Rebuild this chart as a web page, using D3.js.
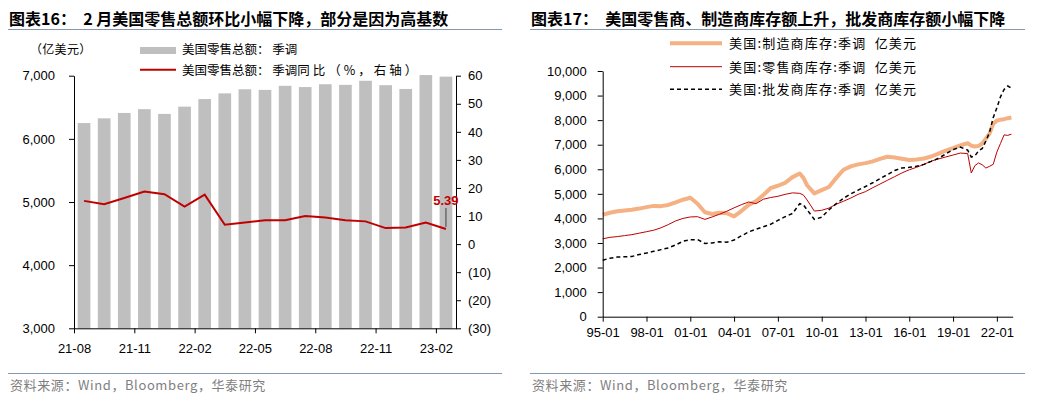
<!DOCTYPE html>
<html>
<head>
<meta charset="utf-8">
<script src="https://cdn.jsdelivr.net/npm/d3@7"></script>
<style>
  body { margin: 0; background: #fff; }
  svg { display: block; font-family: "Liberation Sans", Arial, sans-serif; }
  .cn { font-family: "Noto Sans CJK SC", sans-serif; }
</style>
</head>
<body>
<svg id="chart" width="1037" height="399"></svg>
<script>
// ---- left chart data: US retail sales (亿美元) and YoY (%) ----
const months = ["21-08","21-09","21-10","21-11","21-12","22-01","22-02","22-03","22-04","22-05",
                "22-06","22-07","22-08","22-09","22-10","22-11","22-12","23-01","23-02"];
const retailSales = [6250,6325,6410,6470,6395,6510,6630,6720,6785,6775,
                     6840,6820,6865,6855,6920,6850,6790,7010,6985];
const retailYoy = [15.4,14.2,16.4,18.7,17.8,13.4,17.6,6.9,7.7,8.5,
                   8.5,10.0,9.5,8.5,8.1,5.7,5.9,7.7,5.39];
const salesTicks = [3000,4000,5000,6000,7000];
const yoyTicks = [-30,-20,-10,0,10,20,30,40,50,60];

// ---- right chart data: US inventories (亿美元) ----
const invDates = ["1995-01","1995-07","1996-01","1996-07","1997-01","1997-07","1998-01","1998-07",
  "1999-01","1999-07","2000-01","2000-07","2001-01","2001-07","2002-01","2002-07","2003-01","2003-07",
  "2004-01","2004-07","2005-01","2005-07","2006-01","2006-07","2007-01","2007-07","2008-01","2008-07",
  "2008-10","2009-01","2009-07","2010-01","2010-07","2011-01","2011-07","2012-01","2012-07","2013-01",
  "2013-07","2014-01","2014-07","2015-01","2015-07","2016-01","2016-07","2017-01","2017-07","2018-01",
  "2018-07","2019-01","2019-07","2020-01","2020-04","2020-07","2020-10","2021-01","2021-04","2021-07",
  "2021-10","2022-01","2022-04","2022-07","2022-10","2023-01"];
const mfgInv = [4150,4230,4290,4320,4350,4400,4460,4510,4500,4550,4650,4760,4840,4600,4250,4180,4230,4210,
  4080,4300,4550,4700,4950,5230,5330,5450,5680,5830,5650,5350,5020,5150,5280,5650,5980,6120,6200,6250,
  6320,6420,6510,6480,6430,6380,6400,6440,6520,6640,6760,6860,6970,7060,6960,6930,6950,7050,7250,7450,
  7850,7980,8020,8040,8080,8110];
const retailInv = [3170,3230,3260,3300,3340,3400,3460,3520,3620,3750,3900,4000,4060,4070,3960,4060,4170,4290,
  4430,4560,4670,4600,4780,4850,4900,4980,5040,5020,4950,4750,4300,4330,4420,4580,4700,4830,4980,5090,
  5250,5400,5550,5700,5850,5980,6080,6200,6330,6420,6500,6580,6660,6640,5850,6150,6260,6180,6050,6120,
  6200,6700,7050,7400,7380,7430];
const wholesaleInv = [2300,2380,2430,2440,2450,2530,2590,2660,2730,2800,2920,3070,3130,3140,2980,3000,3050,3030,
  3120,3290,3450,3560,3660,3760,3920,4070,4200,4600,4550,4350,3960,4050,4350,4600,4820,5000,5150,5300,
  5450,5620,5780,5950,6050,6080,6120,6200,6320,6450,6620,6800,6900,6780,6500,6550,6750,6850,7150,7500,
  8100,8500,8950,9250,9390,9300];
const invTicks = [0,1000,2000,3000,4000,5000,6000,7000,8000,9000,10000];
const invTickDates = ["1995-01","1998-01","2001-01","2004-01","2007-01","2010-01","2013-01","2016-01","2019-01","2022-01"];

const svg = d3.select("#chart");
const fmt = d3.format(",");
const parseMonth = d3.timeParse("%Y-%m");

function frame(x0, x1, title) {
  svg.append("text").attr("class", "cn").attr("x", x0 + 1).attr("y", 25)
    .style("white-space", "pre").attr("font-size", 16).attr("font-weight", 700)
    .attr("fill", "#000").text(title);
  svg.append("line").attr("x1", x0).attr("x2", x1).attr("y1", 29.5).attr("y2", 29.5)
    .attr("stroke", "#8497b0").attr("stroke-width", 1);
  svg.append("line").attr("x1", x0).attr("x2", x1).attr("y1", 373.5).attr("y2", 373.5)
    .attr("stroke", "#8497b0").attr("stroke-width", 1);
  svg.append("text").attr("class", "cn").attr("x", x0 + 2).attr("y", 390)
    .attr("font-size", 13).attr("letter-spacing", 0.6).attr("fill", "#7f7f7f")
    .text("资料来源：Wind，Bloomberg，华泰研究");
}

function styleAxis(g) {
  g.selectAll(".domain").attr("stroke", "#000");
  g.selectAll(".tick line").attr("stroke", "#000");
  g.selectAll(".tick text").attr("font-size", 13).attr("fill", "#000")
    .attr("font-family", "'Liberation Sans', Arial, sans-serif");
}

// ================= left chart =================
frame(8, 502, "图表16：  2 月美国零售总额环比小幅下降，部分是因为高基数");

const xL = d3.scaleLinear().domain([0, months.length]).range([74, 456]);
const yL = d3.scaleLinear().domain([3000, 7000]).range([328.3, 75.7]);
const yR = d3.scaleLinear().domain([-30, 60]).range([328.3, 75.7]);
const step = xL(1) - xL(0);
const barW = step * 0.63;

svg.append("text").attr("class", "cn").attr("x", 30).attr("y", 54)
  .attr("font-size", 12).attr("letter-spacing", 0.3).attr("fill", "#000").text("（亿美元）");

svg.append("g").selectAll("rect").data(retailSales).join("rect")
  .attr("x", (d, i) => xL(i + 0.5) - barW / 2)
  .attr("y", d => yL(d))
  .attr("width", barW)
  .attr("height", d => yL(3000) - yL(d))
  .attr("fill", "#bfbfbf");

svg.append("path").datum(retailYoy)
  .attr("fill", "none").attr("stroke", "#c00000").attr("stroke-width", 2)
  .attr("d", d3.line().x((d, i) => xL(i + 0.5)).y(d => yR(d)));

const gLy = svg.append("g").attr("transform", "translate(74,0)")
  .call(d3.axisLeft(yL).tickValues(salesTicks).tickFormat(fmt).tickSize(5).tickPadding(14).tickSizeOuter(0));
styleAxis(gLy);
const gRy = svg.append("g").attr("transform", "translate(456,0)")
  .call(d3.axisRight(yR).tickValues(yoyTicks)
    .tickFormat(d => d < 0 ? "(" + Math.abs(d) + ")" : d).tickSize(5).tickPadding(7).tickSizeOuter(0));
styleAxis(gRy);
const gLx = svg.append("g").attr("transform", "translate(0,328.3)")
  .call(d3.axisBottom(xL).tickValues(d3.range(0, months.length, 3))
    .tickFormat(i => months[i]).tickSize(5).tickPadding(10).tickSizeOuter(0));
styleAxis(gLx);

// last value annotation
const lastI = retailYoy.length - 1;
svg.append("line")
  .attr("x1", xL(lastI + 0.5)).attr("x2", xL(lastI + 0.5))
  .attr("y1", yR(retailYoy[lastI]) - 2).attr("y2", yR(retailYoy[lastI]) - 21)
  .attr("stroke", "#404040").attr("stroke-width", 1);
svg.append("text").attr("x", xL(lastI + 0.5)).attr("y", yR(retailYoy[lastI]) - 24)
  .attr("text-anchor", "middle").attr("font-size", 13).attr("font-weight", 700)
  .attr("fill", "#c00000").text(retailYoy[lastI].toFixed(2));

// legend
svg.append("rect").attr("x", 140).attr("y", 47).attr("width", 36).attr("height", 7).attr("fill", "#bfbfbf");
svg.append("text").attr("class", "cn").attr("x", 182).attr("y", 54).attr("font-size", 12.5)
  .attr("fill", "#000").style("white-space", "pre").text("美国零售总额： 季调");
svg.append("line").attr("x1", 140).attr("x2", 176).attr("y1", 69.7).attr("y2", 69.7)
  .attr("stroke", "#c00000").attr("stroke-width", 2);
const leg2 = svg.append("text").attr("class", "cn").attr("x", 182).attr("y", 75).attr("font-size", 12.5)
  .attr("fill", "#000").style("white-space", "pre");
leg2.append("tspan").text("美国零售总额： 季调");
leg2.append("tspan").attr("letter-spacing", 3).text("同比（%，右轴）");

// ================= right chart =================
frame(530, 1025, "图表17：  美国零售商、制造商库存额上升，批发商库存额小幅下降");

const xT = d3.scaleTime().domain([parseMonth("1995-01"), parseMonth("2023-02")]).range([602.7, 1012.7]);
const yI = d3.scaleLinear().domain([0, 10000]).range([316.7, 71]);
const dates = invDates.map(parseMonth);
const invLine = d3.line().x((d, i) => xT(dates[i])).y(d => yI(d));

svg.append("path").datum(mfgInv).attr("fill", "none").attr("stroke", "#f4b183")
  .attr("stroke-width", 4).attr("stroke-linejoin", "round").attr("d", invLine);
svg.append("path").datum(retailInv).attr("fill", "none").attr("stroke", "#c00000")
  .attr("stroke-width", 1).attr("d", invLine);
svg.append("path").datum(wholesaleInv).attr("fill", "none").attr("stroke", "#000")
  .attr("stroke-width", 1.5).attr("stroke-dasharray", "4,3").attr("d", invLine);

const gIy = svg.append("g").attr("transform", "translate(602.7,0)")
  .call(d3.axisLeft(yI).tickValues(invTicks).tickFormat(fmt).tickSize(5).tickPadding(11).tickSizeOuter(0));
styleAxis(gIy);
const gIx = svg.append("g").attr("transform", "translate(0,316.7)")
  .call(d3.axisBottom(xT).tickValues(invTickDates.map(parseMonth))
    .tickFormat(d3.timeFormat("%y-%m")).tickSize(5).tickPadding(6).tickSizeOuter(0));
styleAxis(gIx);

// legend
const legendItems = [
  { label: "美国:制造商库存:季调  亿美元", color: "#f4b183", width: 4, dash: null, y: 43.3 },
  { label: "美国:零售商库存:季调  亿美元", color: "#c00000", width: 1, dash: null, y: 66.7 },
  { label: "美国:批发商库存:季调  亿美元", color: "#000", width: 1.5, dash: "4,3", y: 89.3 }
];
legendItems.forEach(it => {
  svg.append("line").attr("x1", 670).attr("x2", 722).attr("y1", it.y).attr("y2", it.y)
    .attr("stroke", it.color).attr("stroke-width", it.width).attr("stroke-dasharray", it.dash);
  svg.append("text").attr("class", "cn").attr("x", 729).attr("y", it.y + 5).attr("font-size", 13)
    .attr("letter-spacing", 1.2).attr("fill", "#000").style("white-space", "pre").text(it.label);
});
</script>
</body>
</html>
